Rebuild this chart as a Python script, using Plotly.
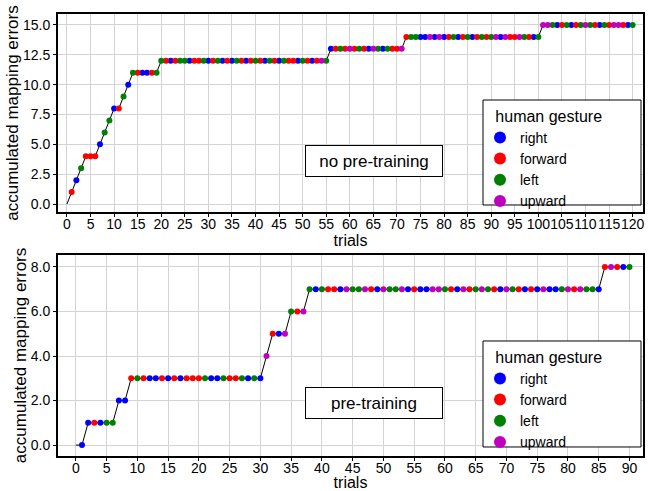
import plotly.graph_objects as go
from plotly.subplots import make_subplots

# ---- data ----
top_errors = [1, 2, 3, 4, 4, 4, 5, 6, 7, 8, 8, 9, 10, 11, 11, 11, 11, 11, 11] + [12] * 36 + [13] * 16 + [14] * 29 + [15] * 20
top_gestures = list(
    "FRLFFFRLLRFLRLFRRFL"
    "LFRFLLRFFLRFLRFRLFRFLFRLFRLFFRLFRFUL"
    "RFLFUFLFRULRLFFU"
    "FLLRRURURFLRFLRFLFLURUFFULFRL"
    "UULRFLRFLULFRLFUUFRL"
)
bottom_errors = [0] + [1] * 5 + [2] * 2 + [3] * 22 + [4] + [5] * 3 + [6] * 3 + [7] * 48 + [8] * 5
bottom_gestures = list(
    "RRFRLLRRFLFRRFRFRFFFLRRLFFLRLRUFRULFU"
    "LRLFFRULLUFRULLURFRRUULFRUFL"
    "ULFRULFRFRURRLUFULLR"
    "FUFRL"
)
gesture_names = {"R": "right", "F": "forward", "L": "left", "U": "upward"}
gesture_colors = {"R": "#0000ff", "F": "#ff0000", "L": "#008000", "U": "#bf00bf"}
top_xticks = list(range(0, 121, 5))
bottom_xticks = list(range(0, 91, 5))
top_yticks = [0, 2.5, 5, 7.5, 10, 12.5, 15]
bottom_yticks = [0, 2, 4, 6, 8]

FONT = "Liberation Sans, Arial, sans-serif"

fig = make_subplots(rows=2, cols=1, vertical_spacing=0.0)

def add_panel(errors, gestures, row, legend):
    trials = list(range(1, len(errors) + 1))
    fig.add_trace(go.Scatter(x=[0] + trials, y=[0] + errors, mode="lines",
                             line=dict(color="black", width=1), showlegend=False,
                             hoverinfo="skip"), row=row, col=1)
    for code in ["R", "F", "L", "U"]:
        xs = [t for t, g in zip(trials, gestures) if g == code]
        ys = [e for e, g in zip(errors, gestures) if g == code]
        fig.add_trace(go.Scatter(x=xs, y=ys, mode="markers", name=gesture_names[code],
                                 marker=dict(color=gesture_colors[code], size=6, line=dict(width=0)),
                                 legend=legend), row=row, col=1)

add_panel(top_errors, top_gestures, 1, "legend")
add_panel(bottom_errors, bottom_gestures, 2, "legend2")

axis_common = dict(showgrid=True, gridcolor="#d3d3d3", gridwidth=1, showline=True,
                   linecolor="black", linewidth=2, mirror=True, ticks="outside",
                   ticklen=3, tickcolor="black", zeroline=False, automargin=True,
                   tickfont=dict(family=FONT, size=14, color="black"))

fig.update_xaxes(**axis_common, tickangle=0, ticklabelstandoff=-5)
fig.update_yaxes(**axis_common)

xtitle = dict(text="trials", font=dict(family=FONT, size=16, color="black"), standoff=1)
ytitle = dict(text="accumulated mapping errors", font=dict(family=FONT, size=17, color="black"), standoff=0)
fig.update_xaxes(range=[-1.9, 122.2], tickvals=top_xticks, ticktext=[str(v) for v in top_xticks],
                 title=xtitle, row=1, col=1)
fig.update_xaxes(range=[-2.9, 92.2], tickvals=bottom_xticks, ticktext=[str(v) for v in bottom_xticks],
                 title=xtitle, row=2, col=1)
fig.update_yaxes(range=[-0.67, 15.92], tickvals=top_yticks, ticktext=[f"{v:.1f}" for v in top_yticks],
                 title=ytitle, row=1, col=1)
fig.update_yaxes(range=[-0.49, 8.54], tickvals=bottom_yticks, ticktext=[f"{v:.1f}" for v in bottom_yticks],
                 title=ytitle, row=2, col=1)

fig.update_layout(
    xaxis=dict(domain=[0, 1]), yaxis=dict(domain=[0.552, 1.0]),
    xaxis2=dict(domain=[0, 1]), yaxis2=dict(domain=[0.0, 0.455]),
)

# legend boxes drawn as shapes, legends transparent on top
BOX_X0, BOX_X1 = 0.7265, 0.9966
for (y0, y1) in [(0.5679, 0.8054), (0.0204, 0.2602)]:
    fig.add_shape(type="rect", xref="paper", yref="paper", x0=BOX_X0, x1=BOX_X1, y0=y0, y1=y1,
                  line=dict(color="black", width=1), fillcolor="white", layer="above")

legend_common = dict(bgcolor="rgba(0,0,0,0)", borderwidth=0,
                     font=dict(family=FONT, size=14, color="black"),
                     itemsizing="constant", xanchor="left", yanchor="top",
                     tracegroupgap=0)
ltitle = dict(text="&nbsp;&nbsp;&nbsp;human gesture", font=dict(family=FONT, size=16, color="black"))
LX = BOX_X0 - 3 / 585
fig.update_layout(
    legend=dict(title=ltitle, x=LX, y=0.8054 - 1 / 442, **legend_common),
    legend2=dict(title=ltitle, x=LX, y=0.2602 - 1 / 442, **legend_common),
)

box = dict(showarrow=False, bordercolor="black", borderwidth=1, borderpad=4, bgcolor="white",
           width=128, height=22, font=dict(family=FONT, size=17, color="black"),
           xref="paper", yref="paper", xanchor="center", yanchor="middle")
fig.add_annotation(text="no pre-training", x=0.540, y=0.667, **box)
fig.add_annotation(text="pre-training", x=0.540, y=0.12, **box)

fig.update_layout(width=650, height=491, margin=dict(l=58, r=7, t=14, b=35, autoexpand=False),
                  paper_bgcolor="white", plot_bgcolor="white",
                  font=dict(family=FONT, color="black"))

fig.write_html("out.html", config={"displayModeBar": False},
               post_script="document.body.style.margin='0';")
